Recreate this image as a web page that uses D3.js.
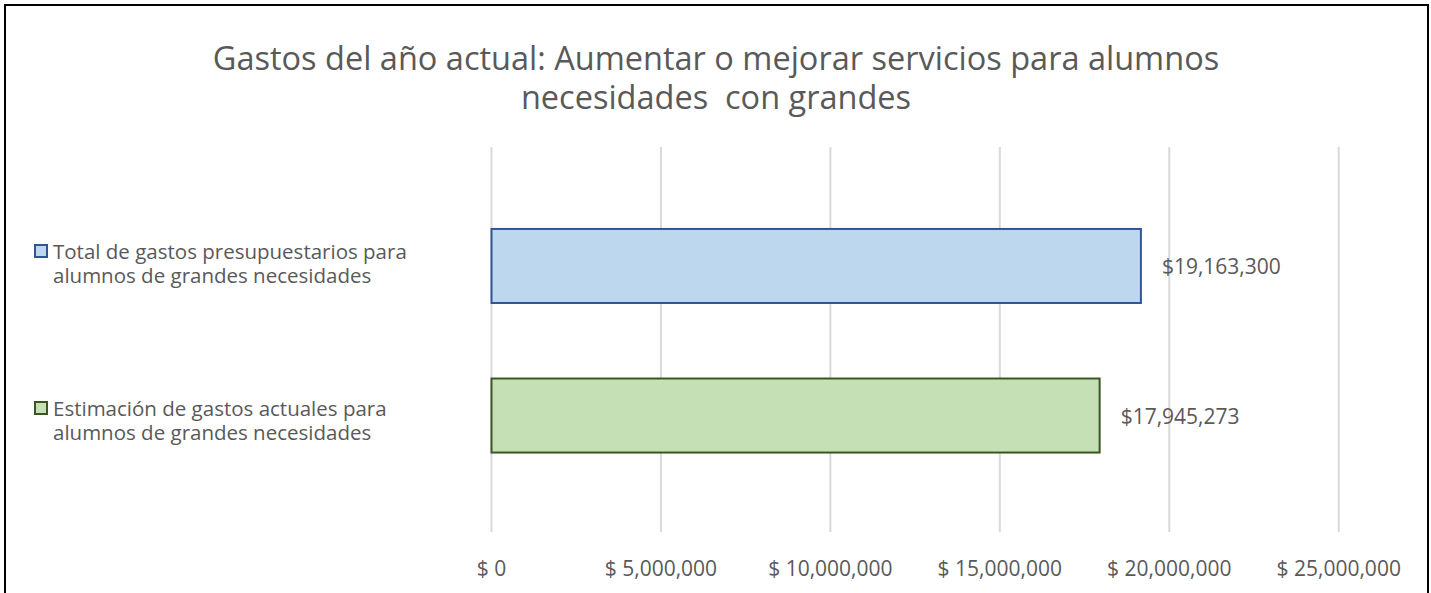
<!DOCTYPE html>
<html>
<head>
<meta charset="utf-8">
<script src="https://cdn.jsdelivr.net/npm/d3@7"></script>
<style>
  body { margin: 0; background: #fff; }
  svg text { font-family: "Open Sans", Lato, sans-serif; fill: #595959; white-space: pre; }
</style>
</head>
<body>
<div id="chart"></div>
<script>
// data
var titleLines = ["Gastos del año actual: Aumentar o mejorar servicios para alumnos", "necesidades  con grandes"];
var seriesNames = [
    ["Total de gastos presupuestarios para", "alumnos de grandes necesidades"],
    ["Estimación de gastos actuales para", "alumnos de grandes necesidades"]
];
var seriesValues = [19163300, 17945273];
var fillColors = ["#bdd7ee", "#c5e0b4"];
var strokeColors = ["#2f5597", "#385723"];
var tickValues = [0, 5000000, 10000000, 15000000, 20000000, 25000000];

var W = 1431, H = 593;
var svg = d3.select("#chart").append("svg").attr("width", W).attr("height", H);

// chart frame (bottom edge is cut off in the original)
svg.append("rect").attr("x", 5).attr("y", 5).attr("width", 1423).attr("height", 620)
    .attr("fill", "#fff").attr("stroke", "#000").attr("stroke-width", 2);

// title
svg.append("text").attr("text-anchor", "middle").style("font-size", "32.5px")
    .selectAll("tspan").data(titleLines).join("tspan")
    .attr("x", 716).attr("y", (d, i) => 70 + i * 39)
    .text(d => d);

var x = d3.scaleLinear().domain([0, 25000000]).range([491.5, 1338.7]);
var y = d3.scaleBand().domain(d3.range(seriesValues.length)).range([147, 534.5]).paddingInner(0.505).paddingOuter(0.548);

// gridlines
svg.append("g").selectAll("line").data(tickValues).join("line")
    .attr("x1", d => x(d)).attr("x2", d => x(d))
    .attr("y1", 147).attr("y2", 532)
    .attr("stroke", "#d9d9d9").attr("stroke-width", 2);

// axis labels
var fmt = d3.format(",");
svg.append("g").selectAll("text").data(tickValues).join("text")
    .attr("x", d => x(d)).attr("y", 576)
    .attr("text-anchor", "middle").style("font-size", "21px")
    .text(d => "$ " + fmt(d));

// bars
svg.append("g").selectAll("rect").data(seriesValues).join("rect")
    .attr("x", x(0)).attr("y", (d, i) => y(i))
    .attr("width", d => x(d) - x(0)).attr("height", y.bandwidth())
    .attr("fill", (d, i) => fillColors[i]).attr("stroke", (d, i) => strokeColors[i]).attr("stroke-width", 2);

// data labels
svg.append("g").selectAll("text").data(seriesValues).join("text")
    .attr("x", d => x(d) + 21).attr("y", (d, i) => y(i) + y.bandwidth() / 2 + 8)
    .style("font-size", "21px")
    .text(d => "$" + fmt(d));

// legend
var leg = svg.append("g").selectAll("g").data(seriesNames).join("g")
    .attr("transform", (d, i) => `translate(35, ${i === 0 ? 245 : 402})`);
leg.append("rect").attr("x", 0).attr("y", 0).attr("width", 12).attr("height", 12)
    .attr("fill", (d, i) => fillColors[i]).attr("stroke", (d, i) => strokeColors[i]).attr("stroke-width", 2);
leg.append("text").style("font-size", "20.5px")
    .selectAll("tspan").data(d => d).join("tspan")
    .attr("x", 18).attr("y", (d, i) => 14 + i * 24)
    .text(d => d);
</script>
</body>
</html>
